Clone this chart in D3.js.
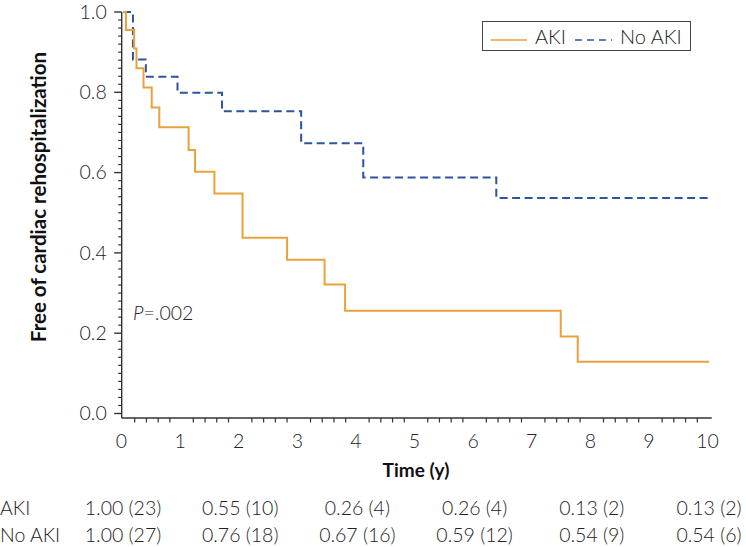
<!DOCTYPE html>
<html>
<head>
<meta charset="utf-8">
<script src="https://cdn.jsdelivr.net/npm/d3@7"></script>
<style>
  html, body { margin: 0; padding: 0; background: #fff; }
  svg { display: block; font-family: Lato, "Open Sans", sans-serif; }
</style>
</head>
<body>
<svg id="chart" width="746" height="547"></svg>
<script>
// ---- data ----
const akiTimes   = [0, 0.05, 0.19, 0.23, 0.35, 0.49, 0.62, 1.12, 1.23, 1.56, 2.04, 2.80, 3.44, 3.79, 7.47, 7.76, 10];
const akiSurv    = [1.0, 0.955, 0.909, 0.860, 0.812, 0.762, 0.713, 0.656, 0.602, 0.548, 0.438, 0.383, 0.321, 0.256, 0.192, 0.129, 0.129];
const noAkiTimes = [0, 0.17, 0.39, 0.93, 1.69, 3.04, 4.10, 6.37, 10];
const noAkiSurv  = [1.0, 0.882, 0.839, 0.799, 0.753, 0.673, 0.588, 0.537, 0.537];

const xTicks = [0, 1, 2, 3, 4, 5, 6, 7, 8, 9, 10];
const yTicks = [0.0, 0.2, 0.4, 0.6, 0.8, 1.0];

const riskTimes     = [0, 2, 4, 6, 8, 10];
const akiRiskSurv   = [1.00, 0.55, 0.26, 0.26, 0.13, 0.13];
const akiRiskN      = [23, 10, 4, 4, 2, 2];
const noAkiRiskSurv = [1.00, 0.76, 0.67, 0.59, 0.54, 0.54];
const noAkiRiskN    = [27, 18, 16, 12, 9, 6];

const seriesNames = ["AKI", "No AKI"];
const pText = ".002";

// ---- layout ----
const svg = d3.select("#chart");
const x = d3.scaleLinear().domain([0, 10]).range([123, 709]);
const y = d3.scaleLinear().domain([0, 1]).range([413.5, 12]);
const axisX = 121.7, axisY = 418;
const orange = "#E9A23B", blue = "#2D53A3", axisCol = "#333";
const fontSize = 19.5;

// y axis
const yAxis = svg.append("g").attr("transform", `translate(${axisX},0)`);
yAxis.append("line").attr("x1", 0).attr("x2", 0).attr("y1", y(1)).attr("y2", axisY)
  .attr("stroke", axisCol).attr("stroke-width", 1.4);
const yMinor = d3.range(0, 51).map(i => i / 50).filter(v => Math.round(v * 50) % 10 !== 0);
yAxis.selectAll("line.minor").data(yMinor).join("line").attr("class", "minor")
  .attr("x1", -3.5).attr("x2", 0).attr("y1", d => y(d)).attr("y2", d => y(d))
  .attr("stroke", axisCol).attr("stroke-width", 1.2);
yAxis.selectAll("line.major").data(yTicks).join("line").attr("class", "major")
  .attr("x1", -7.5).attr("x2", 0).attr("y1", d => y(d)).attr("y2", d => y(d))
  .attr("stroke", axisCol).attr("stroke-width", 1.4);
yAxis.selectAll("text").data(yTicks).join("text")
  .attr("x", -15).attr("y", d => y(d)).attr("dy", "0.35em")
  .attr("text-anchor", "end").attr("font-size", fontSize).attr("font-weight", 300)
  .attr("fill", "#222").text(d => d3.format(".1f")(d));

// x axis
const xAxis = svg.append("g").attr("transform", `translate(0,${axisY})`);
xAxis.append("line").attr("x1", axisX).attr("x2", 711.7).attr("y1", 0).attr("y2", 0)
  .attr("stroke", axisCol).attr("stroke-width", 1.4);
const xMinor = d3.range(0, 51).map(i => i / 5).filter(v => Math.round(v * 5) % 5 !== 0);
xAxis.selectAll("line.minor").data(xMinor).join("line").attr("class", "minor")
  .attr("x1", d => x(d)).attr("x2", d => x(d)).attr("y1", 0).attr("y2", 4.5)
  .attr("stroke", axisCol).attr("stroke-width", 1.2);
xAxis.selectAll("text").data(xTicks).join("text")
  .attr("x", d => x(d) - 1.5).attr("y", 30)
  .attr("text-anchor", "middle").attr("font-size", fontSize).attr("font-weight", 300)
  .attr("fill", "#222").text(d => d);

// axis titles
svg.append("text").attr("x", 416).attr("y", 477).attr("text-anchor", "middle")
  .attr("font-size", 19).attr("font-weight", 700).attr("fill", "#111").text("Time (y)");
svg.append("text").attr("transform", "translate(46,197) rotate(-90)")
  .attr("text-anchor", "middle").attr("font-size", 20.5).attr("font-weight", 700)
  .attr("fill", "#111").text("Free of cardiac rehospitalization");

// curves
const line = d3.line().x(d => x(d[0])).y(d => y(d[1])).curve(d3.curveStepAfter);
svg.append("path").datum(noAkiTimes.map((t, i) => [t, noAkiSurv[i]]))
  .attr("d", line).attr("fill", "none").attr("stroke", blue).attr("stroke-width", 2)
  .attr("stroke-dasharray", "8,4.5");
svg.append("path").datum(akiTimes.map((t, i) => [t, akiSurv[i]]))
  .attr("d", line).attr("fill", "none").attr("stroke", orange).attr("stroke-width", 2);

// P value
const pt = svg.append("text").attr("x", 133).attr("y", 320).attr("font-size", fontSize)
  .attr("font-weight", 300).attr("fill", "#222");
pt.append("tspan").attr("font-style", "italic").text("P");
pt.append("tspan").text("=" + pText);

// legend
const lg = svg.append("g");
lg.append("rect").attr("x", 482.5).attr("y", 21.5).attr("width", 208).attr("height", 29)
  .attr("fill", "#fff").attr("stroke", "#444").attr("stroke-width", 1);
lg.append("line").attr("x1", 491).attr("x2", 527).attr("y1", 40).attr("y2", 40)
  .attr("stroke", orange).attr("stroke-width", 1.6);
lg.append("text").attr("x", 535).attr("y", 44).attr("font-size", 20)
  .attr("font-weight", 300).attr("fill", "#222").text(seriesNames[0]);
lg.append("line").attr("x1", 575).attr("x2", 612).attr("y1", 40).attr("y2", 40)
  .attr("stroke", blue).attr("stroke-width", 1.6).attr("stroke-dasharray", "7,5");
lg.append("text").attr("x", 620).attr("y", 44).attr("font-size", 20)
  .attr("font-weight", 300).attr("fill", "#222").text(seriesNames[1]);

// risk table
const rows = [
  { name: seriesNames[0], surv: akiRiskSurv, n: akiRiskN, y: 515 },
  { name: seriesNames[1], surv: noAkiRiskSurv, n: noAkiRiskN, y: 542 }
];
rows.forEach(r => {
  svg.append("text").attr("x", 0).attr("y", r.y).attr("font-size", fontSize)
    .attr("font-weight", 300).attr("fill", "#222").text(r.name);
  svg.selectAll(null).data(riskTimes).join("text")
    .attr("x", d => x(d)).attr("y", r.y).attr("text-anchor", "middle")
    .attr("font-size", fontSize).attr("font-weight", 300).attr("fill", "#222")
    .text((d, i) => `${d3.format(".2f")(r.surv[i])} (${r.n[i]})`);
});
</script>
</body>
</html>
